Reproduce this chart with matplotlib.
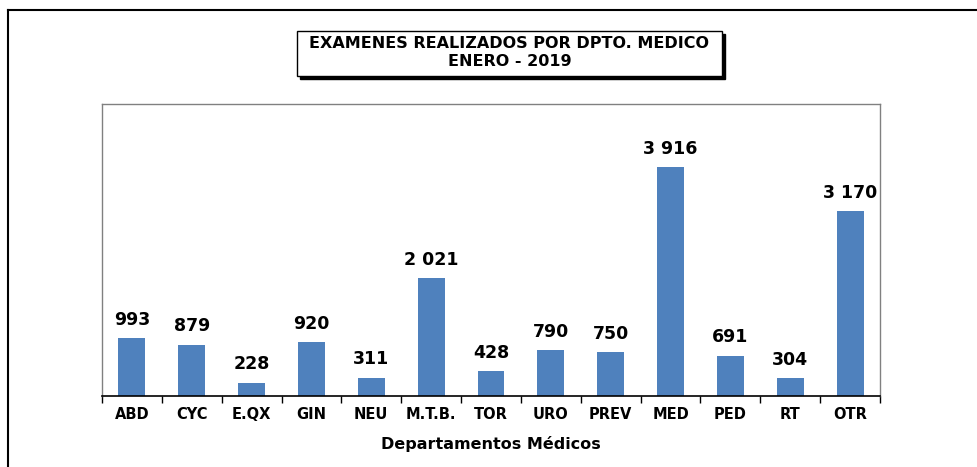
import matplotlib.pyplot as plt
from matplotlib.lines import Line2D
import numpy as np

plt.rcParams['font.family'] = ['DejaVu Sans']

departamentos = ['ABD', 'CYC', 'E.QX', 'GIN', 'NEU', 'M.T.B.', 'TOR', 'URO',
                 'PREV', 'MED', 'PED', 'RT', 'OTR']
examenes = [993, 879, 228, 920, 311, 2021, 428, 790, 750, 3916, 691, 304, 3170]

titulo = 'EXAMENES REALIZADOS POR DPTO. MEDICO\nENERO - 2019'
eje_x = 'Departamentos Médicos'

fig = plt.figure(figsize=(9.77, 4.67), dpi=100)
W, H = 977, 467

# marco exterior (solo izquierda y arriba visibles)
fig.add_artist(Line2D([8 / W, 8 / W], [0, 1 - 10 / H], color='black', lw=1.5,
                      transform=fig.transFigure))
fig.add_artist(Line2D([8 / W, 1], [1 - 10 / H, 1 - 10 / H], color='black', lw=1.5,
                      transform=fig.transFigure))

ax = fig.add_axes([102 / W, 1 - 396 / H, (880 - 102) / W, (396 - 104) / H])

x = np.arange(len(departamentos))
ax.bar(x, examenes, width=0.45, color='#4F81BD', zorder=2)

for xi, v in zip(x, examenes):
    etiqueta = f'{v:,}'.replace(',', ' ')
    ax.text(xi, v + 160, etiqueta, ha='center', va='bottom', fontsize=12.5,
            fontweight='bold')

ax.set_xlim(-0.5, len(departamentos) - 0.5)
ax.set_ylim(0, 5000)
ax.set_yticks([])

ax.set_xticks(np.arange(len(departamentos) + 1) - 0.5, minor=False)
ax.set_xticklabels([])
ax.tick_params(axis='x', which='major', length=5, width=1, direction='out')
ax.set_xticks(x, minor=True)
ax.set_xticklabels(departamentos, minor=True, fontsize=10.5, fontweight='bold')
ax.tick_params(axis='x', which='minor', length=0, pad=8)

for lado in ['left', 'top', 'right']:
    ax.spines[lado].set_color('#808080')
    ax.spines[lado].set_linewidth(1)
ax.spines['bottom'].set_color('black')
ax.spines['bottom'].set_linewidth(1.2)

ax.set_xlabel(eje_x, fontsize=11.5, fontweight='bold', labelpad=10)

# recuadro del titulo con sombra
bx0, by0, bx1, by1 = 297, 31, 722, 76
fig.patches.append(plt.Rectangle((bx0 / W + 3 / W, 1 - (by1 + 3) / H),
                                 (bx1 - bx0) / W, (by1 - by0) / H,
                                 transform=fig.transFigure, facecolor='black',
                                 edgecolor='black', zorder=1))
fig.patches.append(plt.Rectangle((bx0 / W, 1 - by1 / H),
                                 (bx1 - bx0) / W, (by1 - by0) / H,
                                 transform=fig.transFigure, facecolor='white',
                                 edgecolor='black', lw=1, zorder=2))
fig.text((bx0 + bx1) / 2 / W, 1 - ((by0 + by1) / 2 - 1) / H, titulo, ha='center',
         va='center', fontsize=11.5, fontweight='bold', linespacing=1.3, zorder=3)

fig.savefig('out.png', dpi=100)
